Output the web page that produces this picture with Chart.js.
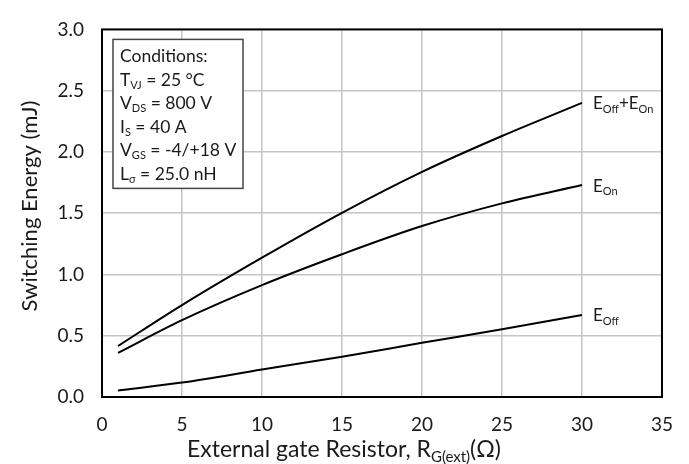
<!DOCTYPE html>
<html>
<head>
<meta charset="utf-8">
<script src="https://cdn.jsdelivr.net/npm/chart.js@4.4.0/dist/chart.umd.min.js"></script>
<style>
  html, body { margin: 0; padding: 0; background: #fff; }
  #wrap { width: 689px; height: 464px; }
</style>
</head>
<body>
<div id="wrap"><canvas id="c" width="689" height="464"></canvas></div>
<script>
// gate resistor values (Ohm)
const rg = [1, 5, 10, 15, 20, 25, 30];
// switching energies (mJ)
const eOn    = [0.36, 0.627, 0.913, 1.165, 1.395, 1.58, 1.73];
const eOff   = [0.053, 0.118, 0.224, 0.329, 0.442, 0.553, 0.67];
const eTotal = [0.416, 0.75, 1.137, 1.503, 1.837, 2.13, 2.40];

const xTicks = [0, 5, 10, 15, 20, 25, 30, 35];
const yTicks = [0, 0.5, 1.0, 1.5, 2.0, 2.5, 3.0];

const FONT = 'Lato, "Open Sans", sans-serif';
const TXT = '#1a1a1a';

const conditions = [
  [['Conditions:']],
  [['T'], ['VJ', 1], [' = 25 °C']],
  [['V'], ['DS', 1], [' = 800 V']],
  [['I'], ['S', 1], [' = 40 A']],
  [['V'], ['GS', 1], [' = -4/+18 V']],
  [['L'], ['σ', 1], [' = 25.0 nH']]
];

const pts = arr => rg.map((x, i) => ({ x: x, y: arr[i] }));

// draws text with subscript parts; returns width
function rich(ctx, x, y, parts, size, draw) {
  let cx = x;
  ctx.textBaseline = 'middle';
  ctx.textAlign = 'left';
  for (const p of parts) {
    const sub = p[1];
    ctx.font = (sub ? Math.round(size * 0.64) : size) + 'px ' + FONT;
    if (draw !== false) ctx.fillText(p[0], cx, sub ? y + size * 0.3 : y);
    cx += ctx.measureText(p[0]).width;
  }
  return cx - x;
}

const decor = {
  id: 'decor',
  afterDraw(chart) {
    const ctx = chart.ctx, a = chart.chartArea;
    const xs = chart.scales.x, ys = chart.scales.y;
    ctx.save();
    // plot frame
    ctx.strokeStyle = '#000';
    ctx.lineWidth = 2;
    ctx.strokeRect(a.left, a.top, a.right - a.left, a.bottom - a.top);

    ctx.fillStyle = TXT;
    // curve labels
    const lx = xs.getPixelForValue(30) + 11;
    rich(ctx, lx, ys.getPixelForValue(eTotal[6]) + 1, [['E'], ['Off', 1], ['+E'], ['On', 1]], 17);
    rich(ctx, lx, ys.getPixelForValue(eOn[6]) + 1.5, [['E'], ['On', 1]], 17);
    rich(ctx, lx, ys.getPixelForValue(eOff[6]) + 1, [['E'], ['Off', 1]], 17);

    // conditions box
    const bx = a.left + 11, by = a.top + 10, bw = 130, bh = 149;
    ctx.fillStyle = '#fff';
    ctx.fillRect(bx, by, bw, bh);
    ctx.strokeStyle = '#444';
    ctx.lineWidth = 1.5;
    ctx.strokeRect(bx, by, bw, bh);
    ctx.fillStyle = TXT;
    conditions.forEach((ln, i) => rich(ctx, bx + 7, by + 17 + i * 23.5, ln, 17.5));

    // axis titles
    ctx.font = '22px ' + FONT;
    ctx.textAlign = 'center';
    ctx.textBaseline = 'middle';
    ctx.save();
    ctx.translate(30, 206);
    ctx.rotate(-Math.PI / 2);
    ctx.fillText('Switching Energy (mJ)', 0, 0);
    ctx.restore();

    const xt = [['External gate Resistor, R'], ['G(ext)', 1], ['(Ω)']];
    const w = rich(ctx, 0, 0, xt, 23, false);
    rich(ctx, 344 - w / 2, 450, xt, 23);
    ctx.restore();
  }
};

const line = (data) => ({
  data: data,
  borderColor: '#000',
  borderWidth: 2,
  pointRadius: 0,
  fill: false,
  cubicInterpolationMode: 'monotone'
});

new Chart(document.getElementById('c'), {
  type: 'line',
  data: { datasets: [line(pts(eTotal)), line(pts(eOn)), line(pts(eOff))] },
  plugins: [decor],
  options: {
    responsive: false,
    animation: false,
    layout: { padding: { top: 17, right: 26, left: 0, bottom: 0 } },
    plugins: { legend: { display: false }, tooltip: { enabled: false } },
    scales: {
      x: {
        type: 'linear', min: 0, max: 35,
        afterBuildTicks: s => { s.ticks = xTicks.map(v => ({ value: v })); },
        afterFit: s => { s.height = 67; },
        grid: { color: '#c4c4c4', lineWidth: 1.5, drawTicks: false },
        border: { display: false },
        ticks: { color: TXT, font: { family: FONT, size: 19 }, padding: 16, maxRotation: 0 }
      },
      y: {
        type: 'linear', min: 0, max: 3,
        afterBuildTicks: s => { s.ticks = yTicks.map(v => ({ value: v })); },
        afterFit: s => { s.width = 102; },
        grid: { color: '#c4c4c4', lineWidth: 1.5, drawTicks: false },
        border: { display: false },
        ticks: { color: TXT, font: { family: FONT, size: 19 }, padding: 18,
          callback: v => v.toFixed(1) }
      }
    }
  }
});
</script>
</body>
</html>
